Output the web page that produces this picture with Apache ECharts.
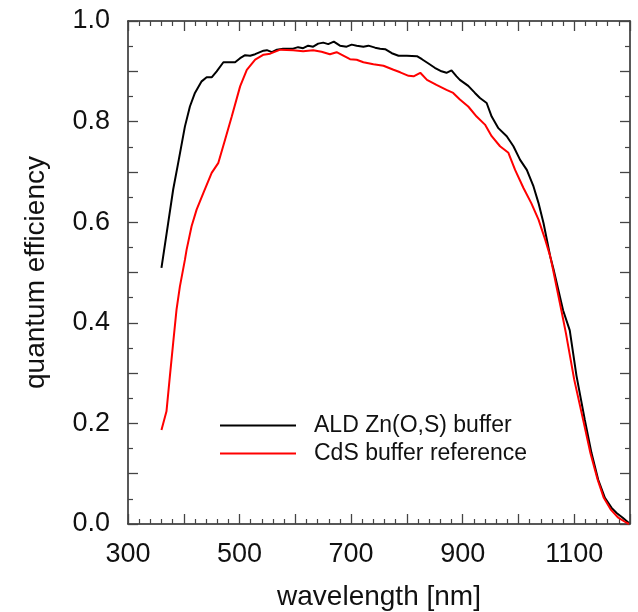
<!DOCTYPE html>
<html>
<head>
<meta charset="utf-8">
<script src="https://cdn.jsdelivr.net/npm/echarts@6/dist/echarts.min.js"></script>
<style>
html,body{margin:0;padding:0;background:#fff;}
#chart{width:638px;height:612px;}
</style>
</head>
<body>
<div id="chart"></div>
<script>
var zosWavelength = [360,372,381,390,402,411,420,432,441,450,459,471,480,492,501,510,519,528,543,549,558,567,578,596,605,614,623,632,641,650,659,669,680,692,701,710,722,731,743,752,761,773,785,800,818,827,838,850,862,871,880,889,895,910,922,931,943,952,964,979,991,1003,1015,1027,1036,1045,1057,1063,1080,1092,1104,1119,1131,1143,1155,1167,1176,1187,1198];
var zosQE = [0.509,0.598,0.665,0.718,0.790,0.830,0.857,0.880,0.888,0.888,0.900,0.918,0.918,0.918,0.926,0.932,0.931,0.934,0.941,0.942,0.938,0.943,0.945,0.945,0.948,0.946,0.951,0.949,0.955,0.957,0.954,0.959,0.951,0.949,0.953,0.951,0.949,0.951,0.947,0.945,0.944,0.936,0.931,0.931,0.930,0.924,0.916,0.907,0.900,0.897,0.902,0.890,0.883,0.871,0.857,0.847,0.837,0.810,0.787,0.771,0.751,0.724,0.704,0.671,0.638,0.598,0.532,0.506,0.425,0.385,0.295,0.207,0.141,0.088,0.052,0.032,0.022,0.0125,0.002];

var cdsWavelength = [360,369,375,381,387,393,402,405,414,423,435,450,462,474,486,501,513,528,543,555,573,596,614,632,647,662,674,686,698,710,722,740,758,776,788,803,812,824,836,853,871,883,895,910,925,940,952,967,982,994,1009,1023,1036,1048,1057,1062,1078,1085,1100,1116,1129,1142,1153,1166,1179,1193,1198];
var cdsQE = [0.187,0.224,0.293,0.360,0.426,0.472,0.525,0.545,0.592,0.625,0.658,0.698,0.718,0.764,0.810,0.870,0.903,0.923,0.933,0.935,0.943,0.942,0.940,0.942,0.939,0.934,0.938,0.931,0.924,0.923,0.918,0.914,0.911,0.903,0.898,0.891,0.890,0.897,0.883,0.873,0.863,0.857,0.844,0.830,0.810,0.794,0.771,0.751,0.738,0.704,0.668,0.638,0.605,0.565,0.532,0.506,0.419,0.380,0.287,0.207,0.141,0.088,0.052,0.028,0.0125,0.003,0.0];

var seriesNames = ['ALD Zn(O,S) buffer', 'CdS buffer reference'];
var xLabelValues = [300, 500, 700, 900, 1100];
var yLabelValues = ['0.0', '0.2', '0.4', '0.6', '0.8', '1.0'];

function pairs(xs, ys) { return xs.map(function (x, i) { return [x, ys[i]]; }); }

var FONT = 'Liberation Sans, Arial, Helvetica, sans-serif';
var AX = '#222';

function xAxisCfg(pos, labels) {
  return {
    type: 'value', position: pos, min: 300, max: 1200, interval: 100,
    name: labels ? 'wavelength [nm]' : '', nameLocation: 'middle', nameGap: 59,
    nameTextStyle: { fontSize: 28, color: '#111', fontFamily: FONT },
    axisLine: { show: true, onZero: false, lineStyle: { color: AX, width: 1.5 } },
    axisTick: { show: true, inside: true, length: 10, lineStyle: { color: '#444', width: 1.3 } },
    minorTick: { show: true, splitNumber: 5, length: 5, lineStyle: { color: '#444', width: 1.2 } },
    splitLine: { show: false }, minorSplitLine: { show: false },
    axisLabel: {
      show: labels, fontSize: 27, color: '#111', fontFamily: FONT, margin: 17,
      formatter: function (v) { return xLabelValues.indexOf(v) >= 0 ? String(v) : ''; }
    }
  };
}
function yAxisCfg(pos, labels) {
  return {
    type: 'value', position: pos, min: 0, max: 1, interval: 0.1,
    name: labels ? 'quantum efficiency' : '', nameLocation: 'middle', nameGap: 78, nameRotate: 90,
    nameTextStyle: { fontSize: 28, color: '#111', fontFamily: FONT },
    axisLine: { show: true, onZero: false, lineStyle: { color: AX, width: 1.5 } },
    axisTick: { show: true, inside: true, length: 10, lineStyle: { color: '#444', width: 1.3 } },
    minorTick: { show: true, splitNumber: 2, length: 5, lineStyle: { color: '#444', width: 1.2 } },
    splitLine: { show: false }, minorSplitLine: { show: false },
    axisLabel: {
      show: labels, fontSize: 27, color: '#111', fontFamily: FONT, margin: 18,
      formatter: function (v) { var s = v.toFixed(1); return yLabelValues.indexOf(s) >= 0 ? s : ''; }
    }
  };
}

var chart = echarts.init(document.getElementById('chart'), null, { renderer: 'canvas' });
chart.setOption({
  animation: false,
  backgroundColor: '#fff',
  grid: { left: 128, right: 8, top: 21, bottom: 88, containLabel: false, outerBoundsMode: 'none' },
  xAxis: [xAxisCfg('bottom', true), xAxisCfg('top', false)],
  yAxis: [yAxisCfg('left', true), yAxisCfg('right', false)],
  legend: {
    data: seriesNames, orient: 'vertical', left: 215, top: 409, icon: 'rect',
    itemWidth: 76, itemHeight: 2, itemGap: 5,
    textStyle: { fontSize: 23, color: '#111', fontFamily: FONT, padding: [0, 0, 0, 13] }
  },
  series: [
    { name: seriesNames[0], type: 'line', xAxisIndex: 0, yAxisIndex: 0, symbol: 'none',
      lineStyle: { color: '#000', width: 2 }, itemStyle: { color: '#000' },
      data: pairs(zosWavelength, zosQE) },
    { name: seriesNames[1], type: 'line', xAxisIndex: 0, yAxisIndex: 0, symbol: 'none',
      lineStyle: { color: '#ff0000', width: 2 }, itemStyle: { color: '#ff0000' },
      data: pairs(cdsWavelength, cdsQE) }
  ]
});
</script>
</body>
</html>
